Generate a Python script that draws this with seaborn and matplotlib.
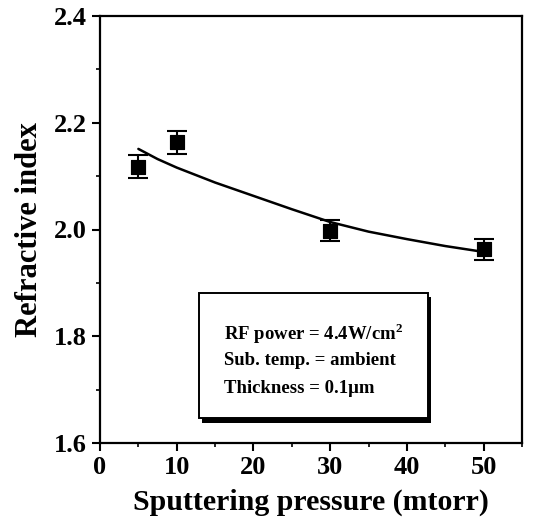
import matplotlib
matplotlib.use("Agg")
import matplotlib.pyplot as plt
from matplotlib.patches import Rectangle
from matplotlib.ticker import MultipleLocator
import seaborn as sns
import pandas as pd

# measured points
pressure = [5, 10, 30, 50]
n_index = [2.118, 2.163, 1.998, 1.963]
n_err = [0.021, 0.021, 0.020, 0.020]

# fitted trend line
fit_p = [5, 7.5, 10, 15, 20, 25, 30, 35, 40, 45, 50]
fit_n = [2.151, 2.132, 2.116, 2.088, 2.063, 2.038, 2.014, 1.996, 1.982, 1.969, 1.958]

notes = ["RF power = 4.4W/cm$^\\mathbf{2}$", "Sub. temp. = ambient", "Thickness = 0.1\u03bcm"]

sns.set_theme(style="ticks")
plt.rcParams["font.family"] = ["Liberation Serif", "DejaVu Serif"]
plt.rcParams["font.weight"] = "bold"
plt.rcParams["text.color"] = "black"
plt.rcParams["axes.labelcolor"] = "black"
plt.rcParams["xtick.color"] = "black"
plt.rcParams["ytick.color"] = "black"
plt.rcParams["mathtext.fontset"] = "custom"
plt.rcParams["mathtext.bf"] = "Liberation Serif:bold"
plt.rcParams["mathtext.rm"] = "Liberation Serif:bold"

fig = plt.figure(figsize=(5.42, 5.28), dpi=100)
ax = fig.add_axes([100 / 542, 1 - 443 / 528, 422 / 542, 427 / 528])

pts = pd.DataFrame({"p": pressure, "n": n_index})
fit = pd.DataFrame({"p": fit_p, "n": fit_n})

sns.lineplot(data=fit, x="p", y="n", color="black", lw=1.8, ax=ax)
ax.errorbar(pressure, n_index, yerr=n_err, fmt="none", ecolor="black",
            elinewidth=1.5, capsize=7, capthick=1.5, zorder=3)
sns.scatterplot(data=pts, x="p", y="n", marker="s", s=110, color="black",
                edgecolor="black", ax=ax, zorder=4)

ax.set_xlim(0, 55)
ax.set_ylim(1.6, 2.4)
ax.xaxis.set_minor_locator(MultipleLocator(5))
ax.yaxis.set_minor_locator(MultipleLocator(0.1))
ax.set_xticks([0, 10, 20, 30, 40, 50])
ax.set_yticks([1.6, 1.8, 2.0, 2.2, 2.4])
ax.set_yticklabels(["1.6", "1.8", "2.0", "2.2", "2.4"])
ax.tick_params(which="major", length=6, width=1.5, labelsize=19, direction="out")
ax.tick_params(which="minor", length=3, width=1.2, direction="out")
for lab in ax.get_xticklabels() + ax.get_yticklabels():
    lab.set_fontweight("bold")
for s in ax.spines.values():
    s.set_linewidth(1.6)
    s.set_color("black")

ax.set_xlabel("Sputtering pressure (mtorr)", fontsize=21.5, fontweight="bold", labelpad=7)
ax.set_ylabel("Refractive index", fontsize=22, fontweight="bold", labelpad=7)

# annotation box with drop shadow
ax.add_patch(Rectangle((13.3, 1.638), 29.9, 0.235, facecolor="black",
                       edgecolor="none", zorder=1))
ax.add_patch(Rectangle((12.9, 1.646), 29.9, 0.235, facecolor="white",
                       edgecolor="black", lw=1.4, zorder=2))
for i, t in enumerate(notes):
    ax.text(16.1, 1.805 - i * 0.051, t, fontsize=13.5, fontweight="bold",
            va="center", ha="left", zorder=3)

fig.savefig("out.png", dpi=100)
